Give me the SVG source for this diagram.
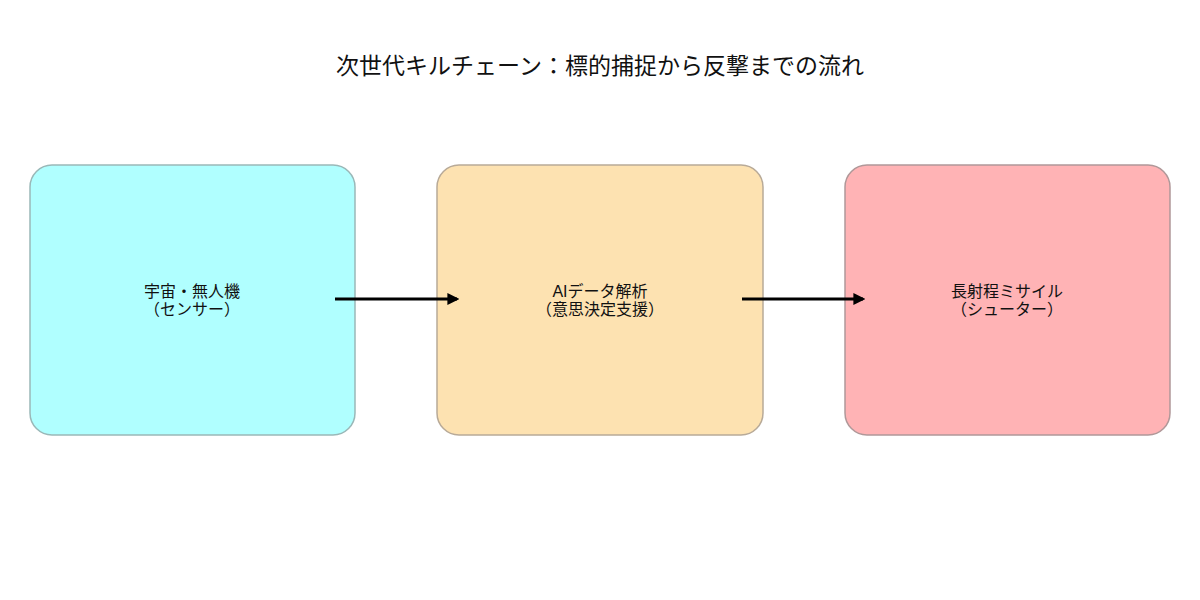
<svg xmlns="http://www.w3.org/2000/svg" width="1200" height="600" viewBox="0 0 1200 600">
<style>
.title{font-family:"Liberation Sans","Noto Sans CJK JP",sans-serif;font-size:23px;fill:#111;text-anchor:middle}
.lbl{font-family:"Liberation Sans","Noto Sans CJK JP",sans-serif;font-size:16px;fill:#111;text-anchor:middle}
.box{stroke-width:1.5}
.conn{stroke:#000;stroke-width:3;fill:none}
</style>
<defs>
<marker id="ah" viewBox="0 0 10 10" refX="8" refY="5" markerWidth="4" markerHeight="4" orient="auto" markerUnits="strokeWidth">
<path d="M0,0 L10,5 L0,10 Z" fill="#000"/>
</marker>
</defs>
<rect width="1200" height="600" fill="#fff"/>
<text class="title" x="600" y="74">次世代キルチェーン：標的捕捉から反撃までの流れ</text>
<g id="node-sensor">
<rect class="box" x="30" y="165" width="325" height="270" rx="22" fill="#b0ffff" stroke="#9ab8b8"/>
<text class="lbl" x="192" y="297">宇宙・無人機</text>
<text class="lbl" x="192" y="315">（センサー）</text>
</g>
<g id="node-ai">
<rect class="box" x="437" y="165" width="326" height="270" rx="22" fill="#fde2b1" stroke="#b8aa98"/>
<text class="lbl" x="600" y="297">AIデータ解析</text>
<text class="lbl" x="600" y="315">（意思決定支援）</text>
</g>
<g id="node-shooter">
<rect class="box" x="845" y="165" width="325" height="270" rx="22" fill="#ffb3b5" stroke="#b09899"/>
<text class="lbl" x="1007" y="297">長射程ミサイル</text>
<text class="lbl" x="1007" y="315">（シューター）</text>
</g>
<g id="connectors">
<line class="conn" x1="335" y1="299" x2="457" y2="299" marker-end="url(#ah)"/>
<line class="conn" x1="742" y1="299" x2="863" y2="299" marker-end="url(#ah)"/>
</g>
</svg>
